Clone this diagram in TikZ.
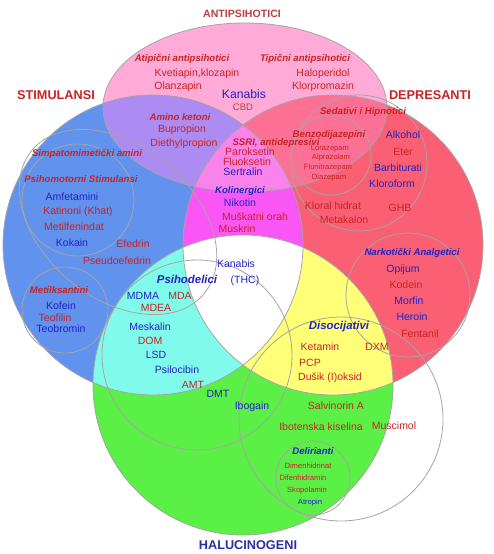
\documentclass[tikz,border=0pt]{standalone}
\usepackage{fontspec}
\setmainfont{Liberation Sans}
\usetikzlibrary{positioning}
\definecolor{stimfill}{RGB}{96,146,238}
\definecolor{depfill}{RGB}{250,95,115}
\definecolor{halfill}{RGB}{90,240,70}
\definecolor{antifill}{RGB}{255,170,215}
\definecolor{sdfill}{RGB}{250,85,245}
\definecolor{shfill}{RGB}{128,250,235}
\definecolor{dhfill}{RGB}{255,255,120}
\definecolor{safill}{RGB}{172,140,242}
\definecolor{dafill}{RGB}{252,112,150}
\definecolor{sdafill}{RGB}{250,130,235}
\definecolor{ringgray}{RGB}{165,165,165}
\definecolor{txtred}{RGB}{200,35,35}
\definecolor{txtblue}{RGB}{35,35,195}
\definecolor{headred}{RGB}{185,65,65}
\definecolor{headblue}{RGB}{45,45,165}
\def\antiset{(245,107.5) ellipse [x radius=142pt, y radius=84.5pt]}
\def\stimset{(153,245) circle [radius=150pt]}
\def\depset{(333,245) circle [radius=150pt]}
\def\halset{(243,385) circle [radius=150pt]}

\begin{document}
\begin{tikzpicture}[
    x=1pt, y=-1pt,
    ring/.style={draw=ringgray, line width=0.8pt},
    drug/.style={inner sep=0pt, font=\fontsize{10.5}{12}\selectfont},
    small/.style={inner sep=0pt, font=\fontsize{7.6}{9}\selectfont},
    grp/.style={inner sep=0pt, font=\fontsize{9.6}{11}\selectfont\bfseries\itshape},
    grpb/.style={inner sep=0pt, font=\fontsize{11.4}{13}\selectfont\bfseries\itshape},
    head/.style={inner sep=0pt, font=\fontsize{12.7}{14}\selectfont\bfseries},
    rd/.style={text=txtred},
    bl/.style={text=txtblue}
]
    \useasboundingbox (0,0) rectangle (493,554);
    \fill[white] (0,0) rectangle (493,554);

    \fill[antifill] \antiset;
    \fill[stimfill] \stimset;
    \fill[depfill] \depset;
    \fill[halfill] \halset;
    \begin{scope}
        \clip \stimset;
        \fill[sdfill] \depset;
        \fill[shfill] \halset;
    \end{scope}
    \begin{scope}
        \clip \depset;
        \fill[dhfill] \halset;
    \end{scope}
    \begin{scope}
        \clip \stimset;
        \clip \depset;
        \fill[white] \halset;
    \end{scope}
    \begin{scope}
        \clip \antiset;
        \fill[safill] \stimset;
        \fill[dafill] \depset;
    \end{scope}
    \begin{scope}
        \clip \antiset;
        \clip \stimset;
        \fill[sdafill] \depset;
    \end{scope}

    \draw[ring] \antiset;
    \draw[ring] \stimset;
    \draw[ring] \depset;
    \draw[ring] \halset;

    \draw[ring, rotate around={-40:(118,222)}] (118,222) ellipse [x radius=112pt, y radius=76pt];
    \draw[ring] (78,200) circle [radius=56pt];
    \draw[ring] (65,310) circle [radius=43pt];
    \draw[ring] (331,155) circle [radius=40pt];
    \draw[ring] (359,163) circle [radius=68pt];
    \draw[ring] (408,295) circle [radius=62pt];
    \draw[ring] (197,355) circle [radius=95pt];
    \draw[ring] (341,419) circle [radius=102pt];
    \draw[ring] (313,478) circle [radius=37pt];

    \node[inner sep=0pt, font=\fontsize{10.6}{12}\selectfont\bfseries, text=headred] (antipsihotici) at (242,14) {ANTIPSIHOTICI};
    \node[head, text=txtred] (stimulansi) at (56,95) {STIMULANSI};
    \node[head, text=txtred] (depresanti) at (430,95) {DEPRESANTI};
    \node[head, text=headblue] (halucinogeni) at (248,545) {HALUCINOGENI};

    \node[grp, rd] (atipicni) at (182,59) {Atipični antipsihotici};
    \node[grp, rd] (tipicni) at (305,59) {Tipični antipsihotici};
    \node[drug, rd] (kvetiapin) at (197,74) {Kvetiapin,klozapin};
    \node[drug, rd] (olanzapin) at (178,87) {Olanzapin};
    \node[drug, rd] (haloperidol) at (323,74) {Haloperidol};
    \node[drug, rd] (klorpromazin) at (323,87) {Klorpromazin};
    \node[inner sep=0pt, font=\fontsize{12.2}{14}\selectfont, bl] (kanabiscbd) at (244,94) {Kanabis};
    \node[inner sep=0pt, font=\fontsize{9.5}{11}\selectfont, text=headred] (cbd) at (243,107) {CBD};

    \node[grp, rd] (aminoketoni) at (180,117) {Amino ketoni};
    \node[drug, rd] (bupropion) at (182,130) {Bupropion};
    \node[drug, rd] (diethylpropion) at (184,144) {Diethylpropion};

    \node[grp, rd] (simpatomimeticki) at (87,154) {Simpatomimetički amini};
    \node[grp, rd] (psihomotorni) at (81,179) {Psihomotorni Stimulansi};
    \node[drug, bl] (amfetamini) at (72,197) {Amfetamini};
    \node[drug, rd] (katinoni) at (78,212) {Katinoni (Khat)};
    \node[drug, rd] (metilfenindat) at (74,227) {Metilfenindat};
    \node[drug, bl] (kokain) at (72,243) {Kokain};
    \node[drug, rd] (efedrin) at (133,244) {Efedrin};
    \node[drug, rd] (pseudoefedrin) at (117,261) {Pseudoefedrin};

    \node[grp, rd] (metilksantini) at (59,290) {Metilksantini};
    \node[drug, bl] (kofein) at (61,306) {Kofein};
    \node[drug, rd] (teofilin) at (55,318) {Teofilin};
    \node[drug, bl] (teobromin) at (61,329) {Teobromin};

    \node[grp, rd] (ssri) at (276,143) {SSRI, antidepresivi};
    \node[drug, rd] (paroksetin) at (250,152) {Paroksetin};
    \node[drug, rd] (fluoksetin) at (247,162) {Fluoksetin};
    \node[drug, bl] (sertralin) at (243,172) {Sertralin};

    \node[grp, bl] (kolinergici) at (240,191) {Kolinergici};
    \node[drug, bl] (nikotin) at (240,203) {Nikotin};
    \node[drug, rd] (muskatni) at (255,217) {Muškatni orah};
    \node[drug, rd] (muskrin) at (237,229) {Muskrin};

    \node[grp, rd] (sedativi) at (363,112) {Sedativi i Hipnotici};
    \node[grp, rd] (benzodijazepini) at (329,135) {Benzodijazepini};
    \node[small, rd] (lorazepam) at (330,149) {Lorazepam};
    \node[small, rd] (alprazolam) at (331,158) {Alprazolam};
    \node[small, rd] (flunitrazepam) at (328,168) {Flunitrazepam};
    \node[small, rd] (diazepam) at (329,178) {Diazepam};
    \node[drug, bl] (alkohol) at (403,135) {Alkohol};
    \node[drug, rd] (eter) at (403,152) {Eter};
    \node[drug, bl] (barbiturati) at (398,168) {Barbiturati};
    \node[drug, bl] (kloroform) at (392,184) {Kloroform};
    \node[drug, rd] (kloral) at (333,206) {Kloral hidrat};
    \node[drug, rd] (ghb) at (400,208) {GHB};
    \node[drug, rd] (metakalon) at (344,220) {Metakalon};

    \node[grp, bl] (narkoticki) at (412,253) {Narkotički Analgetici};
    \node[drug, bl] (opijum) at (403,270) {Opijum};
    \node[drug, rd] (kodein) at (406,285) {Kodein};
    \node[drug, bl] (morfin) at (409,301) {Morfin};
    \node[drug, bl] (heroin) at (412,317) {Heroin};
    \node[drug, rd] (fentanil) at (420,334) {Fentanil};

    \node[drug, bl] (kanabis) at (236,264) {Kanabis};
    \node[drug, bl] (thc) at (245,281) {(THC)};

    \node[grpb, bl] (psihodelici) at (187,279) {Psihodelici};
    \node[drug, bl] (mdma) at (143,296) {MDMA};
    \node[drug, rd] (mda) at (180,296) {MDA};
    \node[drug, rd] (mdea) at (156,308) {MDEA};
    \node[drug, bl] (meskalin) at (150,327) {Meskalin};
    \node[drug, rd] (dom) at (150,341) {DOM};
    \node[drug, bl] (lsd) at (156,355) {LSD};
    \node[drug, bl] (psilocibin) at (177,370) {Psilocibin};
    \node[drug, rd] (amt) at (193,385) {AMT};
    \node[drug, bl] (dmt) at (218,394) {DMT};
    \node[drug, bl] (ibogain) at (252,407) {Ibogain};

    \node[grpb, bl] (disocijativi) at (339,327) {Disocijativi};
    \node[drug, rd] (ketamin) at (320,347) {Ketamin};
    \node[drug, rd] (dxm) at (377,347) {DXM};
    \node[drug, rd] (pcp) at (310,363) {PCP};
    \node[drug, rd] (dusik) at (330,378) {Dušik (I)oksid};
    \node[drug, rd] (salvinorin) at (336,406) {Salvinorin A};
    \node[drug, rd] (ibotenska) at (321,427) {Ibotenska kiselina};
    \node[drug, rd] (muscimol) at (394,426) {Muscimol};

    \node[grp, bl] (delirianti) at (313,451) {Delirianti};
    \node[small, rd] (dimenhidrinat) at (308,466) {Dimenhidrinat};
    \node[small, rd] (difenhidramin) at (303,478) {Difenhidramin};
    \node[small, rd] (skopolamin) at (307,491) {Skopolamin};
    \node[small, bl] (atropin) at (310,503) {Atropin};
\end{tikzpicture}
\end{document}
